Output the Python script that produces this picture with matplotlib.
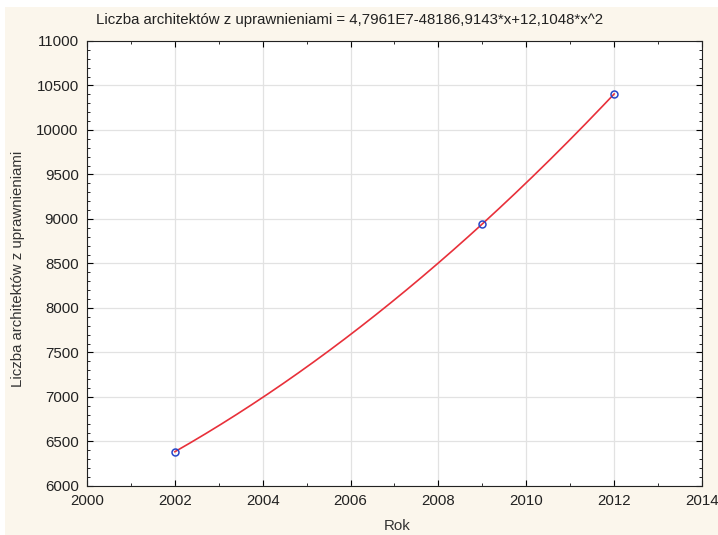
import numpy as np
import matplotlib.pyplot as plt
from matplotlib.patches import Rectangle
from matplotlib.ticker import MultipleLocator

plt.rcParams['font.family'] = ['Liberation Sans', 'DejaVu Sans']

lata = np.array([2002, 2009, 2012])
architekci = np.array([6385, 8945, 10405])

tytul = 'Liczba architektów z uprawnieniami = 4,7961E7-48186,9143*x+12,1048*x^2'

# dopasowanie kwadratowe przez punkty
wsp = np.polyfit(lata, architekci, 2)
xs = np.linspace(lata.min(), lata.max(), 200)
ys = np.polyval(wsp, xs)

W, H = 718, 535
fig = plt.figure(figsize=(W/100, H/100), dpi=100, facecolor='white')
fig.patches.append(Rectangle((5/W, 0), 1, 528/H, transform=fig.transFigure,
                             facecolor='#FBF6EC', edgecolor='none', zorder=-10))
ax = fig.add_axes([87/W, 49/H, 615/W, 445/H])
ax.set_facecolor('white')

ax.plot(xs, ys, color='#E8303A', lw=1.2, zorder=3)
ax.plot(lata, architekci, 'o', mfc='none', mec='#2846C8', ms=5, mew=1.1, zorder=4)

ax.set_xlim(2000, 2014)
ax.set_ylim(6000, 11000)
ax.xaxis.set_major_locator(MultipleLocator(2))
ax.xaxis.set_minor_locator(MultipleLocator(1))
ax.yaxis.set_major_locator(MultipleLocator(500))
ax.yaxis.set_minor_locator(MultipleLocator(100))
ax.grid(True, which='major', color='#E2E2E2', lw=0.9)
ax.set_axisbelow(True)
ax.tick_params(which='both', direction='in', top=True, right=True, labelsize=10.8,
               colors='black', labelcolor='#222222')
ax.tick_params(axis='x', which='major', length=4, pad=6)
ax.tick_params(axis='y', which='major', length=4, pad=6)
ax.tick_params(which='minor', length=2)
for s in ax.spines.values():
    s.set_color('#222222')

fig.text(350/W, 1 - 20/H, tytul, fontsize=10.8, ha='center', va='center', color='#222222')
ax.set_xlabel('Rok', fontsize=10.8, color='#333333', va='center')
ax.xaxis.set_label_coords(0.505, -(526 - 486)/445)
ax.set_ylabel('Liczba architektów z uprawnieniami', fontsize=10.8, color='#333333')
ax.yaxis.set_label_coords(-(87 - 25)/615, (486 - 269)/445)

fig.savefig('out.png', dpi=100, facecolor=fig.get_facecolor())
